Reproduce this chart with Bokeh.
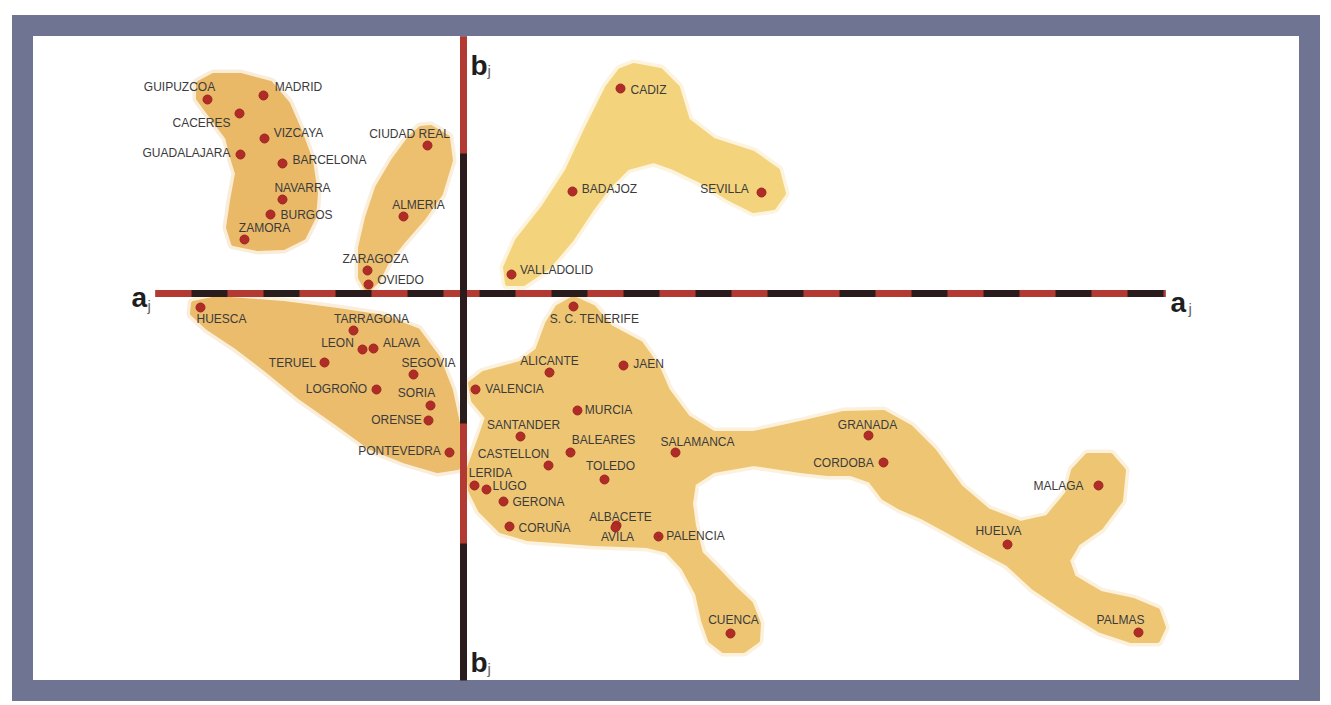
from bokeh.plotting import figure
from bokeh.models import ColumnDataSource, Range1d
from bokeh.core.properties import value
from bokeh.embed import file_html
from bokeh.resources import INLINE

# ---- data: factor scores (a_j horizontal, b_j vertical) ----
names = ["GUIPUZCOA", "MADRID", "CACERES", "VIZCAYA", "GUADALAJARA", "BARCELONA",
         "NAVARRA", "BURGOS", "ZAMORA", "CIUDAD REAL", "ALMERIA", "ZARAGOZA", "OVIEDO",
         "HUESCA", "TARRAGONA", "LEON", "ALAVA", "TERUEL", "SEGOVIA", "LOGROÑO", "SORIA",
         "ORENSE", "PONTEVEDRA",
         "S. C. TENERIFE", "ALICANTE", "JAEN", "VALENCIA", "MURCIA", "SANTANDER", "BALEARES",
         "SALAMANCA", "CASTELLON", "TOLEDO", "LERIDA", "LUGO", "GERONA", "CORUÑA",
         "ALBACETE", "AVILA", "PALENCIA",
         "CADIZ", "BADAJOZ", "SEVILLA", "VALLADOLID",
         "GRANADA", "CORDOBA", "MALAGA", "HUELVA", "PALMAS", "CUENCA"]
a_j = [-2.56, -2.00, -2.24, -1.99, -2.23, -1.81, -1.81, -1.93, -2.19, -0.36, -0.60, -0.96, -0.95,
       -2.63, -1.10, -1.01, -0.90, -1.39, -0.50, -0.87, -0.33, -0.35, -0.14,
       1.10, 0.86, 1.60, 0.12, 1.14, 0.57, 1.07, 2.12, 0.85, 1.41, 0.11, 0.23, 0.40, 0.46,
       1.53, 1.52, 1.95,
       1.57, 1.09, 2.98, 0.48,
       4.05, 4.20, 6.35, 5.44, 6.75, 2.67]
b_j = [1.94, 1.98, 1.80, 1.55, 1.39, 1.30, 0.94, 0.79, 0.54, 1.48, 0.77, 0.23, 0.09,
       -0.14, -0.37, -0.56, -0.55, -0.69, -0.81, -0.96, -1.12, -1.27, -1.59,
       -0.13, -0.79, -0.72, -0.96, -1.17, -1.43, -1.59, -1.59, -1.72, -1.86, -1.92, -1.96, -2.08, -2.33,
       -2.32, -2.34, -2.43,
       2.05, 1.02, 1.01, 0.19,
       -1.42, -1.69, -1.92, -2.51, -3.39, -3.40]
# label offsets (screen px) of each name relative to its point
label_dx = [-28, 35, -38, 34, -54, 47, 20, 36, 20, -18, 15, 8, 32,
            21, 18, -25, 28, -32, 15, -40, -14, -32, -50,
            21, 0, 25, 39, 31, 3, 33, 22, -35, 6, 16, 23, 35, 35,
            4, 2, 37,
            28, 37, -37, 45,
            -1, -40, -40, -9, -18, 3]
label_dy = [-13, -9, 9, -6, -2, -4, -12, 0, -12, -12, -12, -12, -5,
            11, -12, -7, -6, 0, -12, -1, -13, -1, -2,
            12, -12, -2, -1, -1, -12, -13, -11, -12, -14, -13, -4, 0, 1,
            -9, 9, -1,
            1, -3, -4, -5,
            -11, 0, 0, -14, -13, -14]

# cluster regions (outlines in the same factor units)
clusterA_x = [-2.50, -2.23, -1.93, -1.76, -1.63, -1.53, -1.48, -1.50, -1.60, -1.80, -2.06, -2.30,
              -2.35, -2.31, -2.26, -2.30, -2.36, -2.51, -2.65, -2.65]
clusterA_y = [2.18, 2.18, 2.10, 1.90, 1.60, 1.33, 1.00, 0.76, 0.56, 0.46, 0.45, 0.50,
              0.66, 0.93, 1.20, 1.33, 1.56, 1.76, 1.95, 2.10]
clusterB_x = [-0.33, -0.16, -0.13, -0.23, -0.40, -0.60, -0.76, -0.86, -0.96, -1.03, -1.03, -0.96,
              -0.86, -0.70, -0.53, -0.43]
clusterB_y = [1.66, 1.56, 1.33, 1.00, 0.76, 0.53, 0.33, 0.13, 0.03, 0.16, 0.46, 0.76,
              1.06, 1.33, 1.56, 1.65]
clusterC_x = [1.70, 1.97, 2.14, 2.24, 2.50, 2.90, 3.14, 3.20, 3.10, 2.90, 2.64, 2.37, 2.10, 1.90,
              1.64, 1.44, 1.27, 1.07, 0.84, 0.60, 0.44, 0.42, 0.54, 0.80, 1.04, 1.24, 1.44, 1.57]
clusterC_y = [2.28, 2.23, 2.06, 1.73, 1.53, 1.40, 1.23, 1.00, 0.86, 0.83, 0.96, 1.13, 1.26, 1.33,
              1.26, 1.06, 0.83, 0.53, 0.26, 0.10, 0.10, 0.26, 0.53, 0.86, 1.23, 1.66, 2.06, 2.23]
clusterD_x = [-2.70, -2.46, -1.80, -1.26, -0.80, -0.46, -0.26, -0.13, -0.06, -0.03, -0.06, -0.26,
              -0.60, -0.93, -1.26, -1.63, -1.96, -2.26, -2.56, -2.71]
clusterD_y = [-0.10, -0.05, -0.10, -0.17, -0.24, -0.37, -0.64, -0.97, -1.30, -1.57, -1.74, -1.77,
              -1.67, -1.54, -1.30, -1.04, -0.77, -0.54, -0.34, -0.20]
clusterE_x = [0.94, 1.10, 1.30, 1.47, 1.77, 1.94, 2.04, 2.24, 2.50, 2.90, 3.37, 3.80, 4.20, 4.47,
              4.70, 4.97, 5.24, 5.57, 5.84, 6.04, 6.10, 6.24, 6.47, 6.60, 6.57, 6.37, 6.14, 6.04,
              6.10, 6.37, 6.70, 6.94, 7.00, 6.94, 6.67, 6.37, 6.04, 5.70, 5.44, 5.14, 4.84, 4.60,
              4.37, 4.20, 4.07, 3.87, 3.64, 3.37, 2.90, 2.50, 2.30, 2.27, 2.30, 2.37, 2.54, 2.70,
              2.87, 2.95, 2.94, 2.80, 2.60, 2.47, 2.40, 2.34, 2.20, 2.04, 1.84, 1.30, 0.64, 0.37,
              0.17, 0.07, 0.05, 0.17, 0.24, 0.10, 0.07, 0.20, 0.57, 0.74, 0.84]
clusterE_y = [-0.14, -0.05, -0.14, -0.34, -0.50, -0.74, -0.97, -1.24, -1.40, -1.40, -1.30, -1.20,
              -1.19, -1.34, -1.57, -1.94, -2.17, -2.30, -2.24, -2.00, -1.77, -1.62, -1.62, -1.77,
              -2.07, -2.34, -2.50, -2.67, -2.84, -3.00, -3.07, -3.17, -3.34, -3.47, -3.47, -3.37,
              -3.17, -2.94, -2.70, -2.54, -2.37, -2.24, -2.14, -2.04, -1.87, -1.80, -1.80, -1.77,
              -1.70, -1.77, -1.90, -2.10, -2.32, -2.60, -2.77, -2.94, -3.10, -3.30, -3.47, -3.57,
              -3.57, -3.47, -3.27, -3.00, -2.74, -2.57, -2.52, -2.50, -2.45, -2.37, -2.17, -1.97,
              -1.77, -1.44, -1.24, -1.07, -0.90, -0.80, -0.70, -0.57, -0.30]

marker_kind = ["circle"] * len(names)
marker_kind[names.index("PALENCIA")] = "circle_dot"

# ---- figure ----
p = figure(width=1331, height=705, output_backend="svg", toolbar_location=None,
           x_range=Range1d(-4.41, 8.46), y_range=Range1d(-3.97, 2.68),
           min_border_left=22, min_border_right=22, min_border_top=25, min_border_bottom=15)
p.axis.visible = False
p.grid.visible = False
p.background_fill_color = "white"
p.border_fill_color = "white"
p.outline_line_color = "#6f7492"
p.outline_line_width = 21
p.outline_line_join = "miter"

blobs = [(clusterA_x, clusterA_y, "#e9b968"),
         (clusterB_x, clusterB_y, "#edc070"),
         (clusterC_x, clusterC_y, "#f3d37c"),
         (clusterD_x, clusterD_y, "#eabc6c"),
         (clusterE_x, clusterE_y, "#eec673")]
for bx, by, col in blobs:
    p.patch(bx, by, fill_color=col, fill_alpha=0.0, line_color=col, line_alpha=0.25,
            line_width=12, line_join="round")
    p.patch(bx, by, fill_color=col, fill_alpha=1.0, line_color=col, line_alpha=1.0,
            line_width=5, line_join="round")

# axes of the factor map
p.segment(x0=[-3.08], y0=[0], x1=[7.02], y1=[0], line_color="#2a1c1c", line_width=7)
p.segment(x0=[-3.08], y0=[0], x1=[7.02], y1=[0], line_color="#b23a32", line_width=7,
          line_dash="36 36")
p.segment(x0=[0], y0=[2.57], x1=[0], y1=[-3.87], line_color="#2a1c1c", line_width=7)
p.segment(x0=[0], y0=[2.57], x1=[0], y1=[-3.87], line_color="#b23a32", line_width=7,
          line_dash="117 270 120 500")

src = ColumnDataSource(dict(x=a_j, y=b_j, name=names, dx=label_dx, dy=label_dy, m=marker_kind))
p.scatter("x", "y", source=src, marker="m", size=9, fill_color="#b02c27",
          line_color="#9e2622", line_width=1)
p.text("x", "y", text="name", source=src, x_offset="dx", y_offset="dy",
       text_align="center", text_baseline="middle", text_font=value("Liberation Sans"),
       text_font_size="12px", text_color="#3b3b3b")

# axis names a_j / b_j
ax_x = [-3.32, 7.07, 0.07, 0.07]
ax_y = [-0.04, -0.09, 2.28, -3.69]
sub_x = [-3.16, 7.25, 0.24, 0.24]
sub_y = [-0.12, -0.15, 2.23, -3.75]
ax_t = ["a", "a", "b", "b"]
p.text(ax_x, ax_y, text=ax_t, text_align="left", text_baseline="alphabetic",
       text_font=value("Liberation Sans"), text_font_size="28px", text_font_style="bold",
       text_color="#1e1e1e")
p.text(sub_x, sub_y, text=["j"] * 4, text_align="left", text_baseline="alphabetic",
       text_font=value("Liberation Sans"), text_font_size="15px", text_color="#666666")

open("out.html", "w").write(file_html(p, INLINE))
